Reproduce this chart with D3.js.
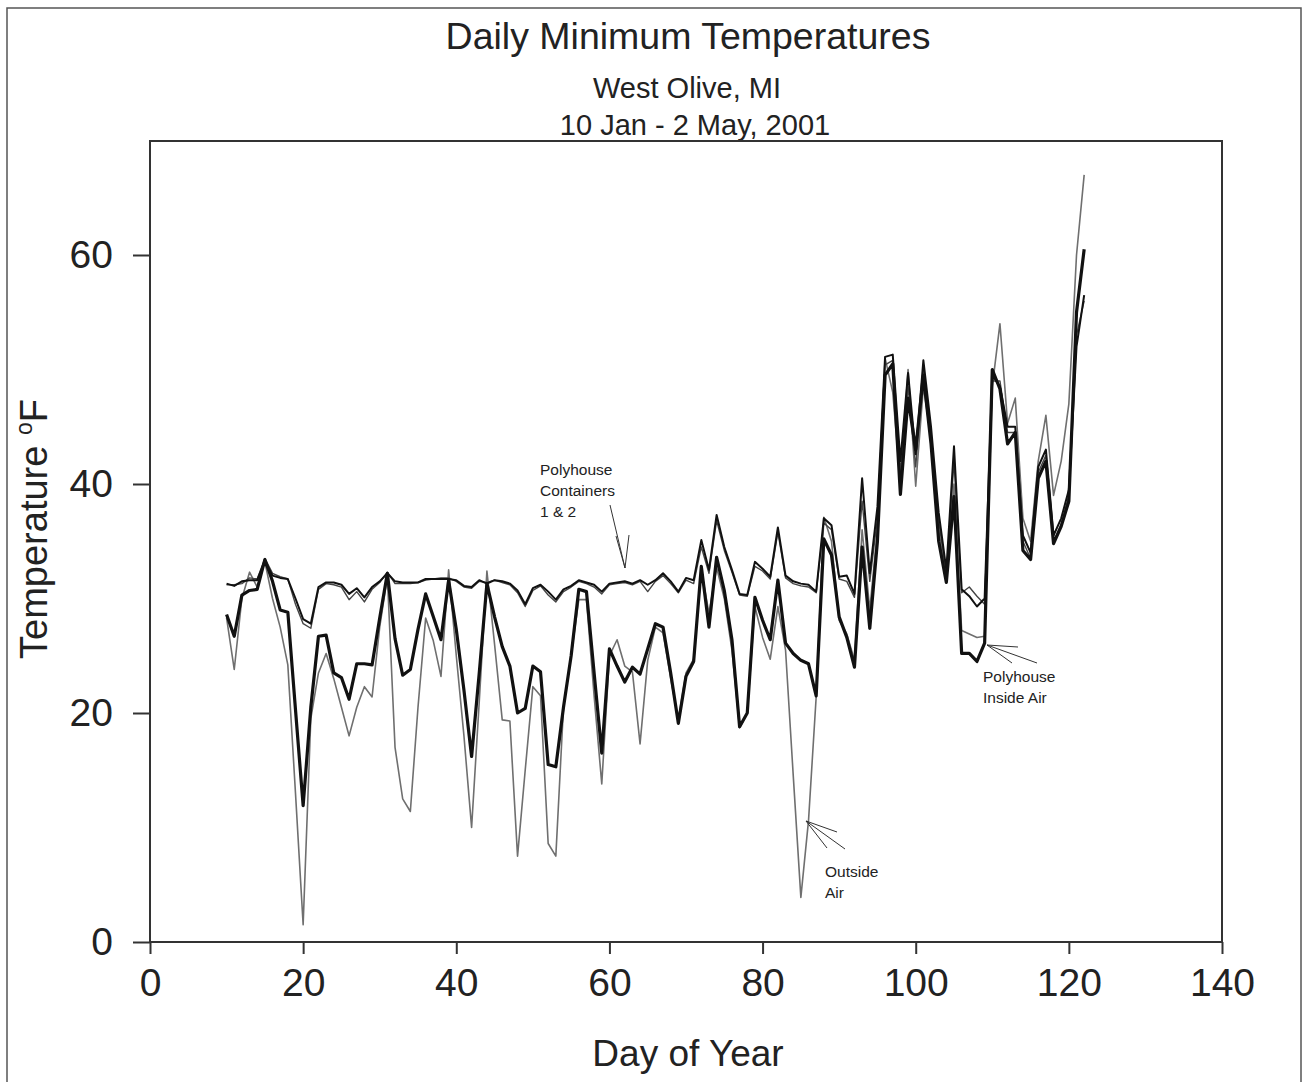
<!DOCTYPE html>
<html><head><meta charset="utf-8">
<script src="https://cdn.jsdelivr.net/npm/d3@7/dist/d3.min.js"></script>
<style>body{margin:0;background:#fff}svg{display:block}text{font-family:"Liberation Sans",Arial,sans-serif;fill:#222}</style>
</head><body><svg id="c" width="1304" height="1082"></svg>
<script>
const days=[10,11,12,13,14,15,16,17,18,19,20,21,22,23,24,25,26,27,28,29,30,31,32,33,34,35,36,37,38,39,40,41,42,43,44,45,46,47,48,49,50,51,52,53,54,55,56,57,58,59,60,61,62,63,64,65,66,67,68,69,70,71,72,73,74,75,76,77,78,79,80,81,82,83,84,85,86,87,88,89,90,91,92,93,94,95,96,97,98,99,100,101,102,103,104,105,106,107,108,109,110,111,112,113,114,115,116,117,118,119,120,121,122];
const container1=[31.3,31.1,31.5,31.6,31.6,33.3,32.0,31.8,31.7,30.0,28.2,27.8,31.0,31.4,31.4,31.2,30.4,30.9,30.1,31.0,31.5,32.2,31.5,31.4,31.4,31.4,31.7,31.7,31.7,31.7,31.6,31.1,31.0,31.6,31.3,31.6,31.5,31.3,30.7,29.5,30.9,31.2,30.6,29.9,30.8,31.1,31.6,31.4,31.2,30.6,31.3,31.4,31.5,31.3,31.6,31.2,31.6,32.2,31.5,30.6,31.8,31.6,35.1,32.5,37.3,34.5,32.5,30.4,30.3,33.2,32.6,31.9,36.2,32.0,31.5,31.3,31.2,30.6,37.0,36.4,31.9,32.0,30.4,40.5,32.2,38.0,51.1,51.3,42.0,49.7,42.6,50.8,45.0,37.5,32.5,43.3,30.8,30.2,29.3,30.0,49.5,48.5,45.0,45.0,35.5,34.0,41.5,43.0,35.5,37.0,39.5,52.0,56.5];
const container2=[31.2,31.2,31.3,31.8,31.7,33.5,32.2,31.9,31.7,29.5,27.8,27.4,30.8,31.3,31.2,31.0,29.9,30.6,29.7,30.8,31.4,32.3,31.3,31.3,31.3,31.4,31.6,31.7,31.8,31.8,31.5,31.0,30.9,31.5,31.4,31.6,31.4,31.2,30.5,29.3,30.7,31.1,30.3,29.7,30.6,31.0,31.5,31.3,31.0,30.4,31.2,31.3,31.4,31.2,31.5,30.6,31.5,32.0,31.3,30.5,31.6,31.3,34.5,32.2,36.8,34.2,32.3,30.3,30.2,32.8,32.4,31.7,35.8,31.8,31.3,31.1,31.0,30.5,36.6,36.0,31.7,31.5,30.1,38.5,31.5,37.0,50.4,50.8,41.0,48.5,41.5,50.0,44.4,36.8,32.0,42.0,30.5,31.0,30.2,29.5,49.0,49.0,44.5,44.5,35.0,33.5,41.0,42.5,35.0,36.5,39.0,53.0,56.0];
const insideAir=[28.6,26.7,30.3,30.7,30.8,33.4,31.5,29.0,28.8,20.3,11.9,20.5,26.7,26.8,23.5,23.1,21.2,24.3,24.3,24.2,28.3,32.2,26.5,23.3,23.8,27.3,30.4,28.4,26.4,31.6,27.3,22.0,16.2,23.5,31.3,28.4,25.8,24.1,20.0,20.4,24.1,23.6,15.5,15.3,20.5,25.0,30.8,30.6,23.5,16.5,25.6,24.1,22.7,24.0,23.4,25.6,27.8,27.5,23.5,19.1,23.2,24.5,32.8,27.5,33.6,30.7,26.4,18.8,20.0,30.1,28.1,26.4,31.6,26.1,25.2,24.6,24.3,21.5,35.2,33.8,28.4,26.6,24.0,34.5,27.4,35.0,49.5,50.5,39.1,47.5,43.0,49.5,43.5,35.0,31.4,38.9,25.2,25.2,24.5,26.1,50.0,48.3,43.5,44.5,34.2,33.4,40.5,42.0,34.8,36.3,38.5,55.0,60.5];
const outsideAir=[28.3,23.8,30.0,32.3,31.0,33.2,30.0,27.5,24.2,13.0,1.5,19.5,23.5,25.2,23.0,20.5,18.0,20.5,22.3,21.4,27.5,31.9,17.0,12.5,11.4,20.5,28.3,26.3,23.2,32.5,25.0,18.0,10.0,21.0,32.4,26.0,19.4,19.3,7.5,15.0,22.3,21.5,8.6,7.5,20.5,25.0,29.9,29.9,21.5,13.8,25.0,26.4,24.1,23.6,17.3,24.6,27.5,27.0,23.0,19.4,23.5,24.7,32.5,28.7,32.7,30.0,25.5,18.7,20.0,29.3,26.6,24.7,29.3,25.5,14.6,3.9,10.6,21.4,37.1,35.0,28.1,26.9,24.6,36.0,29.0,36.0,51.0,48.0,40.0,50.0,39.8,48.5,44.0,36.0,31.6,40.0,27.2,26.9,26.6,26.7,48.5,54.0,45.3,47.5,37.0,35.0,42.0,46.0,39.0,42.0,47.0,60.0,67.0];
const xTicks=[0,20,40,60,80,100,120,140];
const yTicks=[0,20,40,60];
const title="Daily Minimum Temperatures";
const subtitles=["West Olive, MI","10 Jan - 2 May, 2001"];

const svg=d3.select("#c");
const L=150,R=1222,T=141,B=942;
const x=d3.scaleLinear().domain([0,140]).range([L,R]);
const y=d3.scaleLinear().domain([0,70]).range([B,B-70*(687/60)]);

svg.append("rect").attr("x",7).attr("y",8).attr("width",1294).attr("height",1090).attr("fill","none").attr("stroke","#555").attr("stroke-width",1.5);

svg.append("text").attr("x",688).attr("y",49).attr("text-anchor","middle").style("font-size","37.5px").text(title);
svg.append("text").attr("x",687).attr("y",98).attr("text-anchor","middle").style("font-size","29px").text(subtitles[0]);
svg.append("text").attr("x",695).attr("y",135).attr("text-anchor","middle").style("font-size","29px").text(subtitles[1]);

svg.append("rect").attr("x",L).attr("y",T).attr("width",R-L).attr("height",B-T).attr("fill","none").attr("stroke","#333").attr("stroke-width",2);

const xa=svg.append("g").attr("transform",`translate(0,${B})`).call(d3.axisBottom(x).tickValues(xTicks).tickSize(12).tickPadding(14).tickFormat(d3.format("d")));
xa.select(".domain").remove();
xa.selectAll("line").attr("stroke","#333").attr("stroke-width",2);
xa.selectAll("text").style("font-size","39px").attr("fill","#222").attr("dy","0.71em");

const ya=svg.append("g").attr("transform",`translate(${L},0)`).call(d3.axisLeft(y).tickValues(yTicks).tickSize(17).tickPadding(20).tickFormat(d3.format("d")));
ya.select(".domain").remove();
ya.selectAll("line").attr("stroke","#333").attr("stroke-width",2);
ya.selectAll("text").style("font-size","39px").attr("fill","#222");

svg.append("text").attr("x",688).attr("y",1066).attr("text-anchor","middle").style("font-size","37px").text("Day of Year");
const yt=svg.append("text").attr("transform","translate(47,529) rotate(-90)").attr("text-anchor","middle").style("font-size","38px");
yt.append("tspan").text("Temperature ");
yt.append("tspan").attr("dy",-15).style("font-size","23px").text("o");
yt.append("tspan").attr("dy",15).text("F");

const line=d3.line().x((d,i)=>x(days[i])).y(d=>y(d));
const g=svg.append("g").attr("fill","none").attr("stroke-linejoin","round");
g.append("path").datum(outsideAir).attr("d",line).attr("stroke","#6f6f6f").attr("stroke-width",1.6);
g.append("path").datum(container2).attr("d",line).attr("stroke","#444").attr("stroke-width",1.4);
g.append("path").datum(container1).attr("d",line).attr("stroke","#111").attr("stroke-width",2);
g.append("path").datum(insideAir).attr("d",line).attr("stroke","#111").attr("stroke-width",3.2);

function label(lines,x0,y0){
  const t=svg.append("text").style("font-size","15.5px").attr("fill","#333");
  lines.forEach((s,i)=>t.append("tspan").attr("x",x0).attr("y",y0+i*21).text(s));
}
function fan(px,py,ends){
  ends.forEach(e=>svg.append("line").attr("x1",px).attr("y1",py).attr("x2",e[0]).attr("y2",e[1]).attr("stroke","#333").attr("stroke-width",1));
}
label(["Polyhouse","Containers","1 & 2"],540,475);
fan(625,568,[[610,505],[616,536],[629,535]]);
label(["Polyhouse","Inside Air"],983,682);
fan(987,645,[[1018,647],[1037,663],[1012,663]]);
label(["Outside","Air"],825,877);
fan(806,821,[[837,832],[845,849],[827,848]]);
</script></body></html>
